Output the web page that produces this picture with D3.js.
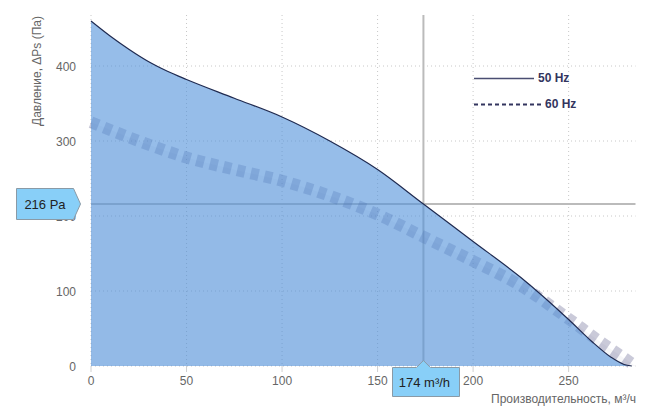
<!DOCTYPE html>
<html><head><meta charset="utf-8">
<script src="https://cdn.jsdelivr.net/npm/d3@7"></script>
<style>body{margin:0;background:#fff}svg{display:block;font-family:"Liberation Sans",Arial,sans-serif}</style>
</head><body><svg id="c" width="650" height="412"></svg>
<script>
const flow50 = [0,10,20,30,40,50,75,100,125,150,174,200,225,250,262,272,279,283];
const pres50 = [460,440,422,406,393,382,357,332,300,262,216,166,118,62,33,12,2,0];
const flow60 = [0,25,50,75,100,125,150,175,200,225,250,265,277,285];
const pres60 = [325,300,278,262,247,227,202,171,140,107,63,35,14,0];
const xTicks = [0,50,100,150,200,250];
const yTicks = [0,100,200,300,400];
const opFlow = 174, opPres = 216;
const legendNames = ["50 Hz","60 Hz"];
const xTitle = "Производительность, м³/ч";
const yTitle = "Давление, ΔPs (Па)";

const svg = d3.select("#c");
const x = d3.scaleLinear().domain([0,285]).range([91,635.5]);
const y = d3.scaleLinear().domain([0,468]).range([366,15]);

// grid
const g = svg.append("g");
g.selectAll(".vg").data(xTicks).join("line")
  .attr("x1",d=>x(d)).attr("x2",d=>x(d)).attr("y1",y(468)).attr("y2",y(0))
  .attr("stroke","#c8c8c8").attr("stroke-dasharray","1,3");
g.selectAll(".hg").data(yTicks).join("line")
  .attr("x1",x(0)).attr("x2",x(285)).attr("y1",d=>y(d)).attr("y2",d=>y(d))
  .attr("stroke","#c8c8c8").attr("stroke-dasharray","1,3");
g.selectAll(".xt").data(xTicks).join("line")
  .attr("x1",d=>x(d)).attr("x2",d=>x(d)).attr("y1",y(0)).attr("y2",y(0)+6)
  .attr("stroke","#d0d0d0");

const d50 = flow50.map((f,i)=>[f,pres50[i]]);
const d60 = flow60.map((f,i)=>[f,pres60[i]]);
const curve = d3.curveMonotoneX;
const area = d3.area().x(d=>x(d[0])).y0(y(0)).y1(d=>y(d[1])).curve(curve);
const line = d3.line().x(d=>x(d[0])).y(d=>y(d[1])).curve(curve);

// 60 Hz area tint
svg.append("path").datum(d60).attr("d",area).attr("fill","rgb(90,90,130)").attr("fill-opacity",0.05);

// crosshairs (under series)
svg.append("line").attr("x1",x(opFlow)).attr("x2",x(opFlow)).attr("y1",y(468)).attr("y2",y(0))
  .attr("stroke","#bbbbbb").attr("stroke-width",2);
svg.append("line").attr("x1",x(0)).attr("x2",x(285)).attr("y1",y(opPres)).attr("y2",y(opPres))
  .attr("stroke","#bbbbbb").attr("stroke-width",2);

// 60 Hz dashed line
svg.append("path").datum(d60).attr("d",line).attr("fill","none")
  .attr("stroke","rgb(80,80,130)").attr("stroke-opacity",0.3)
  .attr("stroke-width",12).attr("stroke-dasharray","8,6");

// 50 Hz area
svg.append("path").datum(d50).attr("d",area).attr("fill","rgb(80,145,218)").attr("fill-opacity",0.6);
svg.append("path").datum(d50).attr("d",line).attr("fill","none").attr("stroke","#1f2a50").attr("stroke-width",1.2);

// axis labels
const lab = svg.append("g").attr("fill","#666").attr("font-size",12);
lab.selectAll(".xl").data(xTicks).join("text").attr("x",d=>x(d)).attr("y",385)
  .attr("text-anchor","middle").text(d=>d);
lab.selectAll(".yl").data(yTicks).join("text").attr("x",76).attr("y",d=>y(d)+5)
  .attr("text-anchor","end").text(d=>d);
lab.append("text").attr("x",636).attr("y",403).attr("text-anchor","end").text(xTitle);
lab.append("text").attr("transform","translate(41,71) rotate(-90)").attr("text-anchor","middle").text(yTitle);

// operating point labels
const bx = svg.append("g");
const py = y(opPres);
bx.append("path").attr("d",`M16.5,${py-15.5} H73.5 L80.5,${py} L73.5,${py+15.5} H16.5 Z`)
  .attr("fill","#88cff8").attr("stroke","#8a9aa6").attr("stroke-width",1);
bx.append("text").attr("x",45).attr("y",py+5).attr("text-anchor","middle").attr("font-size",13).attr("fill","#222").text(opPres+" Pa");
const px = x(opFlow);
bx.append("path").attr("d",`M392.5,367.5 H${px-7} L${px},360.5 L${px+7},367.5 H459.5 V396.5 H392.5 Z`)
  .attr("fill","#88cff8").attr("stroke","#8a9aa6").attr("stroke-width",1);
bx.append("text").attr("x",px+1).attr("y",387).attr("text-anchor","middle").attr("font-size",13).attr("fill","#222").text(opFlow+" m³/h");

// legend
const lg = svg.append("g");
lg.append("line").attr("x1",474).attr("x2",534).attr("y1",78.5).attr("y2",78.5).attr("stroke","#4a4e72").attr("stroke-width",1.3);
lg.append("text").attr("x",538).attr("y",78+4).attr("font-size",12).attr("font-weight","bold").attr("fill","#33355e").text(legendNames[0]);
lg.append("line").attr("x1",474).attr("x2",541).attr("y1",104.5).attr("y2",104.5).attr("stroke","#33355e").attr("stroke-width",2).attr("stroke-dasharray","4,3");
lg.append("text").attr("x",545).attr("y",104+4).attr("font-size",12).attr("font-weight","bold").attr("fill","#33355e").text(legendNames[1]);
</script></body></html>
